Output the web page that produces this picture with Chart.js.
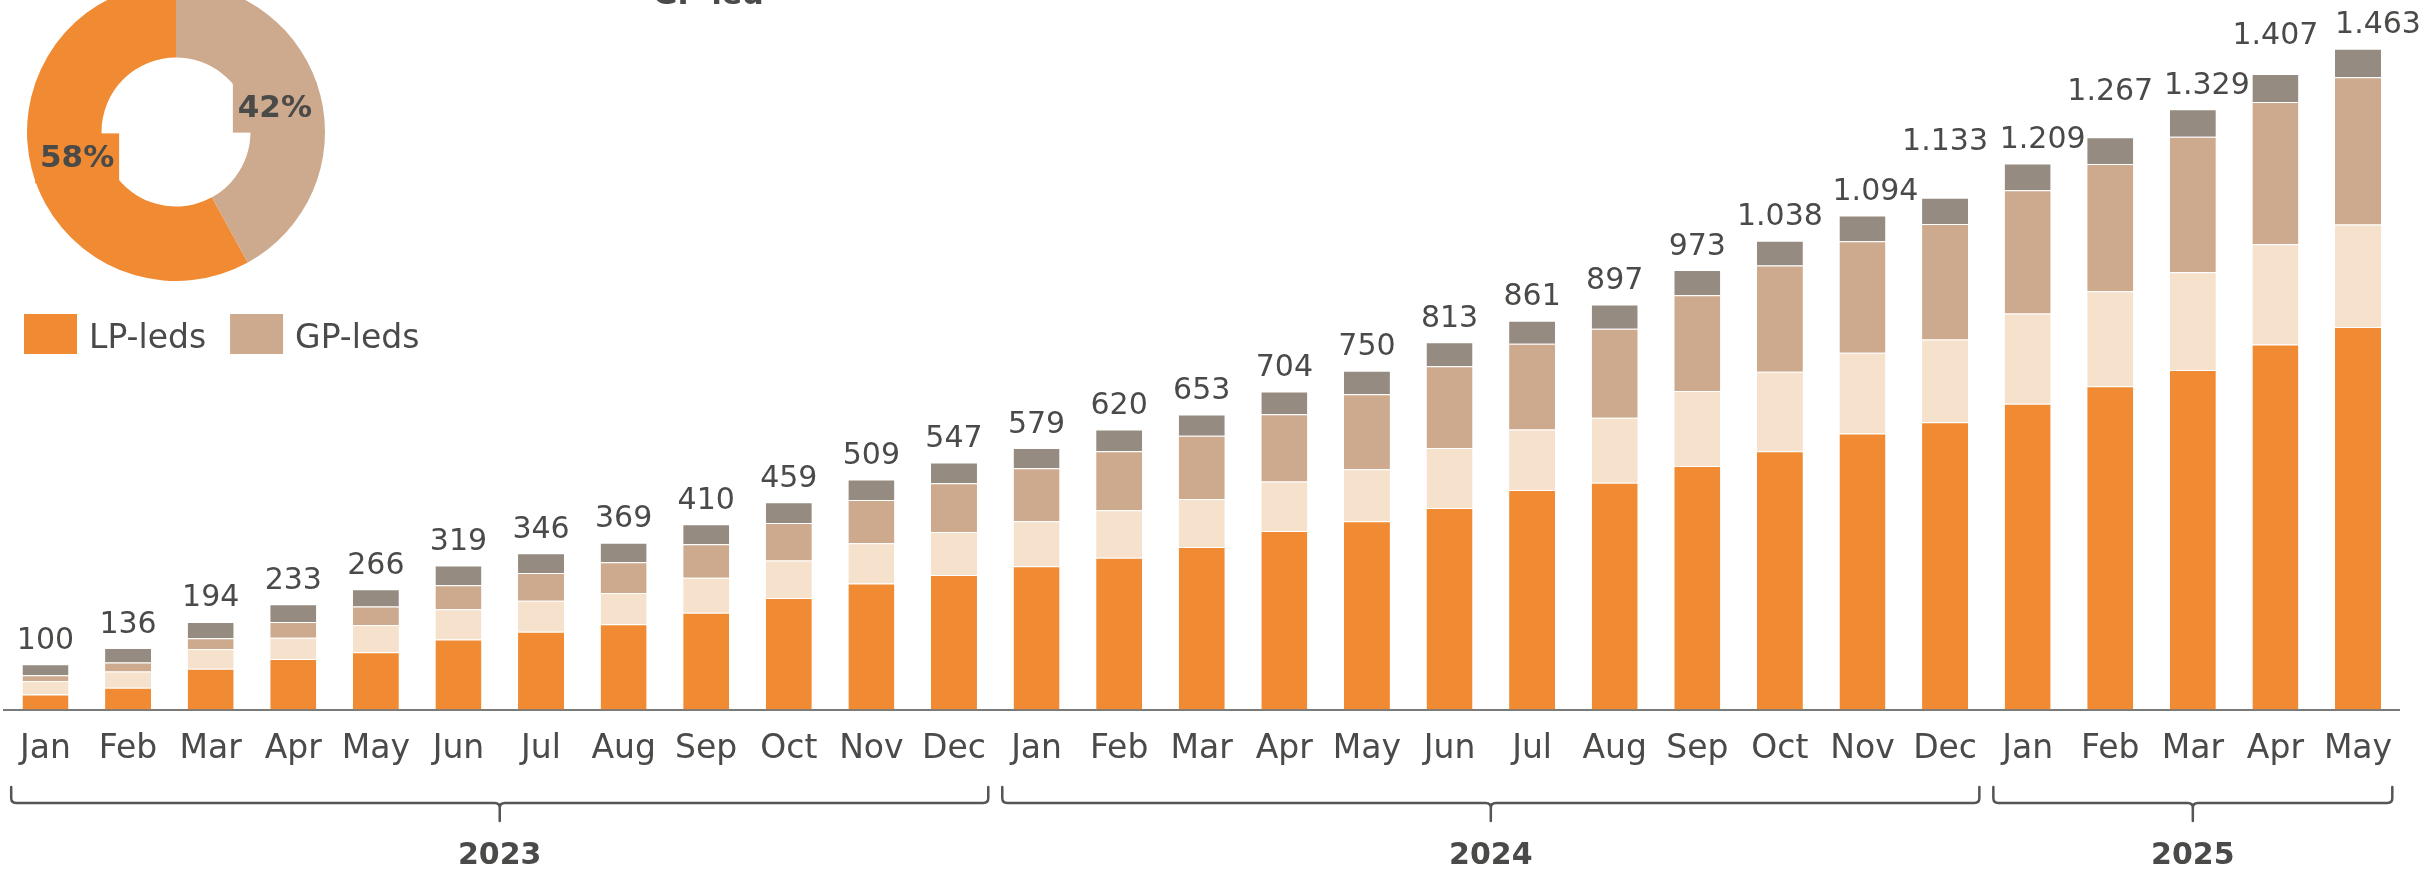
<!DOCTYPE html>
<html><head><meta charset="utf-8">
<script src="https://cdn.jsdelivr.net/npm/chart.js@4.4.1/dist/chart.umd.min.js"></script>
<style>
html,body{margin:0;padding:0;background:#fff;overflow:hidden;width:2435px;height:869px;}
#main{position:absolute;left:0;top:0;}
#donut{position:absolute;left:0;top:-20px;}
</style></head><body>
<canvas id="main" width="2435" height="869"></canvas>
<canvas id="donut" width="420" height="420"></canvas>
<script>
const months = ['Jan','Feb','Mar','Apr','May','Jun','Jul','Aug','Sep','Oct','Nov','Dec',
                'Jan','Feb','Mar','Apr','May','Jun','Jul','Aug','Sep','Oct','Nov','Dec',
                'Jan','Feb','Mar','Apr','May'];
const years = ['2023','2024','2025'];
const yearFirst = [0,12,24];
const yearLast = [11,23,28];
const lpLeds = [33,48,90,112,127,155,172,189,214,247,279,298, 317,336,360,395,417,446,486,502,539,572,611,636, 677,716,752,808,847];
const segCream = [30,36,44,47,60,67,69,69,78,83,89,95, 100,105,106,110,115,133,134,144,166,176,179,183, 200,210,216,222,227];
const segTan = [13,20,24,35,41,53,61,68,74,83,96,108, 117,131,140,149,166,181,190,197,212,235,247,256, 273,282,300,315,326];
const segGray = [24,32,36,39,38,44,44,43,44,46,45,46, 45,48,47,50,52,53,51,54,56,55,57,58, 59,59,61,62,63];
const totals = [100,136,194,233,266,319,346,369,410,459,509,547, 579,620,653,704,750,813,861,897,973,1038,1094,1133, 1209,1267,1329,1407,1463];
const donutLabels = ['LP-leds','GP-leds'];
const donutValues = [58,42];
const topNote = 'GP-led';

// manual nudges of some total labels (pixels), as in the original layout
const labelNudgeX = [0,0,0,0,0,0,0,0,0,0,0,0, 0,0,0,0,0,0,0,0,0,0,13,0, 15,0,14,0,20];
const labelNudgeY = [0,0,0,0,0,0,0,0,0,0,0,0, 0,0,0,0,0,0,0,0,0,0,0,-32, 0,-22,0,-15,0];

const TXT = '#4a4a48';
const ORANGE = '#F18B33', CREAM = '#F6E1CD', TAN = '#CDA98D', GRAY = '#958B80';
const FONT = 'DejaVu Sans';

function fmt(n){ return String(n).replace(/\B(?=(\d{3})+(?!\d))/g,'.'); }

const overlay = {
  id:'overlay',
  afterDatasetsDraw(chart){
    const ctx = chart.ctx;
    const xs = chart.scales.x;
    const lastMeta = chart.getDatasetMeta(chart.data.datasets.length-1);
    ctx.save();
    // totals
    ctx.fillStyle = TXT;
    ctx.font = '30px "' + FONT + '"';
    ctx.textAlign = 'center';
    ctx.textBaseline = 'alphabetic';
    lastMeta.data.forEach((bar,i)=>{
      ctx.fillText(fmt(totals[i]), bar.x + labelNudgeX[i], bar.y - 15.5 + labelNudgeY[i]);
    });
    // top note (cut off)
    ctx.font = 'bold 30px "' + FONT + '"';
    ctx.textAlign = 'left';
    ctx.fillText(topNote, 653, 4);
    // brackets
    const half = (xs.getPixelForValue(1) - xs.getPixelForValue(0))/2;
    ctx.strokeStyle = '#555553';
    ctx.lineWidth = 2.5;
    ctx.lineCap = 'round';
    ctx.lineJoin = 'round';
    const yTop = 787, yH = 803, yStem = 821, r = 5;
    years.forEach((yr,k)=>{
      const left = xs.getPixelForValue(yearFirst[k]) - half + 7;
      const right = xs.getPixelForValue(yearLast[k]) + half - 7;
      const cx = (left + right)/2;
      ctx.beginPath();
      ctx.moveTo(left, yTop);
      ctx.lineTo(left, yH - r);
      ctx.quadraticCurveTo(left, yH, left + r, yH);
      ctx.lineTo(cx - 5, yH);
      ctx.quadraticCurveTo(cx, yH, cx, yH + 5);
      ctx.lineTo(cx, yStem);
      ctx.moveTo(right, yTop);
      ctx.lineTo(right, yH - r);
      ctx.quadraticCurveTo(right, yH, right - r, yH);
      ctx.lineTo(cx + 5, yH);
      ctx.quadraticCurveTo(cx, yH, cx, yH + 5);
      ctx.stroke();
      ctx.fillStyle = TXT;
      ctx.font = 'bold 30px "' + FONT + '"';
      ctx.textAlign = 'center';
      ctx.fillText(yr, cx, 864);
    });
    ctx.restore();
  }
};

const segBorder = {top:1,left:0,right:0,bottom:0};
new Chart(document.getElementById('main'), {
  type:'bar',
  data:{
    labels: months,
    datasets:[
      {label:'LP-leds', data:lpLeds, backgroundColor:ORANGE},
      {label:'Serie 2', data:segCream, backgroundColor:CREAM},
      {label:'GP-leds', data:segTan, backgroundColor:TAN},
      {label:'Serie 4', data:segGray, backgroundColor:GRAY}
    ].map(d=>Object.assign(d,{barPercentage:0.557, categoryPercentage:1, borderWidth:segBorder, borderColor:'rgba(255,255,255,0.45)', borderSkipped:false}))
  },
  options:{
    responsive:false, animation:false,
    layout:{padding:{left:3.3,right:35.7,top:0,bottom:0}},
    plugins:{legend:{display:false}, tooltip:{enabled:false}},
    scales:{
      x:{stacked:true, offset:true,
         grid:{display:false, drawTicks:false},
         border:{display:true, color:'#7a7a78', width:2},
         ticks:{font:{family:FONT,size:33}, color:TXT, padding:20, maxRotation:0, autoSkip:false},
         afterFit(a){ a.height = 159.5; }
      },
      y:{stacked:true, display:false, min:0, max:1571}
    }
  },
  plugins:[overlay]
});

const donutColors = [ORANGE, TAN];
const donutDeco = {
  id:'donutDeco',
  afterDatasetsDraw(chart){
    const ctx = chart.ctx;
    const meta = chart.getDatasetMeta(0);
    ctx.save();
    ctx.font = 'bold 31px "' + FONT + '"';
    ctx.textAlign = 'center';
    ctx.textBaseline = 'middle';
    meta.data.forEach((arc,i)=>{
      const p = arc.getProps(['x','y','startAngle','endAngle','innerRadius','outerRadius'], true);
      const mid = (p.startAngle + p.endAngle)/2;
      const rr = p.innerRadius + (p.outerRadius - p.innerRadius)*0.37;
      const lx = p.x + Math.cos(mid)*rr, ly = p.y + Math.sin(mid)*rr + 1;
      ctx.fillStyle = donutColors[i];
      ctx.fillRect(lx - 42, ly - 25, 84, 50);
      ctx.fillStyle = TXT;
      ctx.fillText(donutValues[i] + '%', lx, ly + 1);
    });
    // legend
    ctx.font = '33px "' + FONT + '"';
    ctx.textAlign = 'left';
    ctx.textBaseline = 'alphabetic';
    let x = 24;
    const off = 20;
    donutLabels.forEach((lab,i)=>{
      ctx.fillStyle = donutColors[i];
      ctx.fillRect(x, 314 + off, 53, 40);
      ctx.fillStyle = TXT;
      ctx.fillText(lab, x + 65, 348 + off);
      x += 65 + ctx.measureText(lab).width + 24;
    });
    ctx.restore();
  }
};

new Chart(document.getElementById('donut'), {
  type:'doughnut',
  data:{labels:donutLabels, datasets:[{data:donutValues, backgroundColor:donutColors, borderWidth:0, hoverOffset:0}]},
  options:{
    responsive:false, animation:false,
    rotation: 360*donutValues[1]/(donutValues[0]+donutValues[1]),
    cutout:'50%',
    layout:{padding:{left:27,top:3,right:95,bottom:119}},
    plugins:{legend:{display:false}, tooltip:{enabled:false}}
  },
  plugins:[donutDeco]
});
</script>
</body></html>
